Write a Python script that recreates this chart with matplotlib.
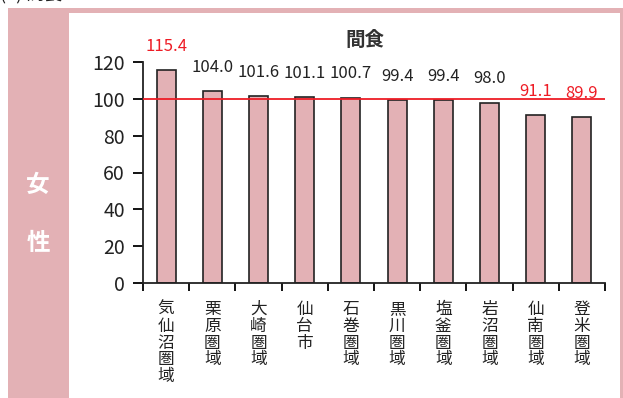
import matplotlib
matplotlib.use("Agg")
import matplotlib.pyplot as plt
from matplotlib.patches import Rectangle

plt.rcParams['font.family'] = ['Noto Sans CJK JP', 'DejaVu Sans']

categories = ["気仙沼圏域", "栗原圏域", "大崎圏域", "仙台市", "石巻圏域",
              "黒川圏域", "塩釜圏域", "岩沼圏域", "仙南圏域", "登米圏域"]
values = [115.4, 104.0, 101.6, 101.1, 100.7, 99.4, 99.4, 98.0, 91.1, 89.9]
highlight = [True, False, False, False, False, False, False, False, True, True]
yticks = [0, 20, 40, 60, 80, 100, 120]
title = "間食"
side_label = ["女", "性"]
heading = "(1) 間食"
reference_value = 100

W, H = 623, 398
fig = plt.figure(figsize=(W / 100, H / 100), dpi=100)

pink = "#e3b1b5"
# frame
fig.patches.append(Rectangle((8 / W, 0), 61 / W, 1 - 8 / H, transform=fig.transFigure,
                             facecolor=pink, edgecolor='none', zorder=0))
fig.patches.append(Rectangle((8 / W, 1 - 13 / H), (W - 8) / W, 5 / H, transform=fig.transFigure,
                             facecolor=pink, edgecolor='none', zorder=0))
fig.patches.append(Rectangle((620 / W, 0), 3 / W, 1 - 8 / H, transform=fig.transFigure,
                             facecolor=pink, edgecolor='none', zorder=0))

# partially visible heading at the very top
fig.text(0 / W, 1 + 1 / H, heading, fontsize=13, color="#222222", va='baseline', ha='left')

fig.text(38 / W, 1 - 185 / H, side_label[0], color='white', fontsize=17, fontweight='bold',
         ha='center', va='center')
fig.text(38 / W, 1 - 243 / H, side_label[1], color='white', fontsize=17, fontweight='bold',
         ha='center', va='center')

ax = fig.add_axes([143 / W, 1 - 283 / H, (605 - 143) / W, (283 - 62) / H])
x = list(range(len(categories)))
ax.bar(x, values, width=0.41, color=pink, edgecolor='#222222', linewidth=1.2, zorder=2)
ax.axhline(reference_value, color='#ee1c25', linewidth=1.3, zorder=3)

ax.set_xlim(-0.5, len(categories) - 0.5)
ax.set_ylim(0, 120)
ax.set_yticks(yticks)
ax.set_yticklabels([str(t) for t in yticks], fontsize=14, color='#222222')
ax.tick_params(axis='y', direction='out', length=7, width=1.3, pad=6)

ax.set_xticks([i - 0.5 for i in range(len(categories) + 1)])
ax.set_xticklabels([])
ax.tick_params(axis='x', direction='out', length=6, width=1.3)
for i, c in enumerate(categories):
    ax.annotate("\n".join(c), xy=(i, 0), xycoords='data', xytext=(0, -13),
                textcoords='offset points', ha='center', va='top', fontsize=12,
                color='#222222', linespacing=0.98, annotation_clip=False)

for s in ['top', 'right']:
    ax.spines[s].set_visible(False)
for s in ['left', 'bottom']:
    ax.spines[s].set_linewidth(1.3)
    ax.spines[s].set_color('#222222')

for i, (v, h) in enumerate(zip(values, highlight)):
    ax.annotate(f"{v:.1f}", xy=(i, v), xytext=(0, 11), textcoords='offset points',
                ha='center', va='bottom', fontsize=12,
                color='#ee1c25' if h else '#222222', annotation_clip=False)

fig.text(365 / W, 1 - 40 / H, title, fontsize=14, fontweight='bold', ha='center', va='center',
         color='#333333')

fig.savefig("out.png", dpi=100)
